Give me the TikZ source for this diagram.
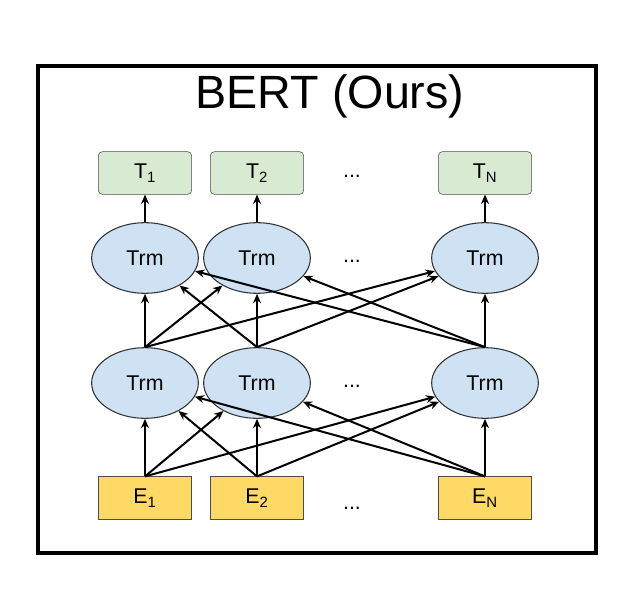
\documentclass[tikz,border=0pt]{standalone}
\usepackage{fontspec}
\setmainfont{Liberation Sans}
\usetikzlibrary{positioning,arrows.meta,shapes.geometric}
\definecolor{tgreen}{HTML}{D9EAD3}
\definecolor{trmblue}{HTML}{CFE2F3}
\definecolor{eyellow}{HTML}{FFD966}
\begin{document}
\begin{tikzpicture}[x=0.75pt,y=-0.75pt,font=\fontsize{16}{18}\selectfont,
    outbox/.style={draw=black!70,fill=tgreen,rounded corners=3pt,minimum width=70pt,minimum height=32pt},
    trm/.style={draw=black!80,fill=trmblue,ellipse,minimum width=80pt,minimum height=53pt,line width=0.8pt},
    inbox/.style={draw=black!70,fill=eyellow,minimum width=70pt,minimum height=32pt},
    arr/.style={-{Stealth[length=7pt,width=6pt]},line width=1.5pt}]
  \useasboundingbox (0,0) rectangle (624,598);
  \draw[line width=3.5pt] (38,66) rectangle (596,553);
  \node[font=\fontsize{35}{40}\selectfont] (title) at (330,96) {BERT (Ours)};

  % output boxes
  \node[outbox] (t1) at (145,173) {T\textsubscript{1}};
  \node[outbox] (t2) at (257,173) {T\textsubscript{2}};
  \node[outbox] (tn) at (485,173) {T\textsubscript{N}};
  \node (tdots) at (352,176) {...};

  % upper transformer layer
  \node[trm] (u1) at (145,258) {Trm};
  \node[trm] (u2) at (257,258) {Trm};
  \node[trm] (un) at (485,258) {Trm};
  \node (udots) at (352,261) {...};

  % lower transformer layer
  \node[trm] (l1) at (145,383) {Trm};
  \node[trm] (l2) at (257,383) {Trm};
  \node[trm] (ln) at (485,383) {Trm};
  \node (ldots) at (352,386) {...};

  % input boxes
  \node[inbox] (e1) at (145,498) {E\textsubscript{1}};
  \node[inbox] (e2) at (257,498) {E\textsubscript{2}};
  \node[inbox] (en) at (485,498) {E\textsubscript{N}};
  \node (edots) at (352,508) {...};

  \foreach \a in {1,2,n}{
    \draw[arr] (u\a) -- (t\a);
    \foreach \b in {1,2,n}{
      \draw[arr] (e\a.north) -- (l\b);
      \draw[arr] (l\a.north) -- (u\b);
    }
  }
\end{tikzpicture}
\end{document}
